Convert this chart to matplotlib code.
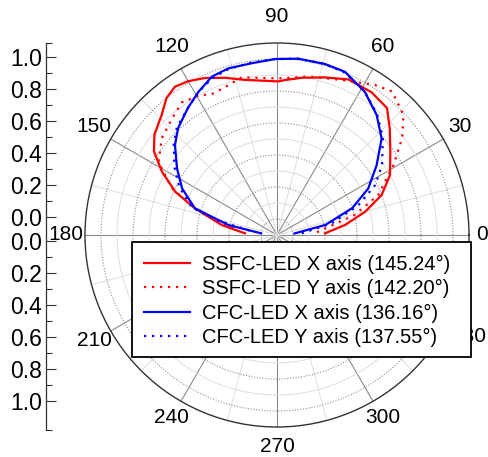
import numpy as np
import matplotlib
matplotlib.use("Agg")
import matplotlib.pyplot as plt
from matplotlib.patches import Rectangle

plt.rcParams['font.family'] = ['Liberation Sans', 'DejaVu Sans']

# ---- data (angle in degrees, relative intensity) ----
ssfc_x_ang = [2, 8.4, 14.8, 20.9, 28, 36.4, 43.4, 49.1, 56.5, 65.3, 73, 81, 87, 89.5, 101.7,
              108.3, 114.7, 120, 124.5, 128.9, 133.9, 140.7, 145.8, 151.2, 157, 162, 169.8, 177]
ssfc_x_val = [0.30, 0.43, 0.57, 0.70, 0.80, 0.88, 0.97, 1.05, 1.07, 1.07, 1.03, 0.995, 0.97, 0.96,
              0.99, 1.035, 1.08, 1.11, 1.125, 1.10, 1.04, 0.99, 0.93, 0.82, 0.69, 0.54, 0.35, 0.20]

ssfc_y_ang = [4, 14.4, 21.5, 31, 37.8, 43.5, 51.3, 56.8, 67.3, 78.8, 88, 92, 102.6, 109.3, 114.9,
              119.3, 125.6, 132, 140, 148.3, 156, 162, 175]
ssfc_y_val = [0.25, 0.50, 0.68, 0.85, 0.99, 1.09, 1.15, 1.12, 1.05, 1.01, 0.98, 0.98, 1.01, 0.98,
              0.97, 1.00, 1.02, 0.98, 0.94, 0.87, 0.72, 0.54, 0.24]

cfc_x_ang = [5, 11.8, 19.7, 27, 35, 42.7, 50.3, 58.5, 67.4, 74.4, 83.1, 90.6, 98.4, 106.3, 112.4,
             118.8, 125, 132.8, 138.6, 146.4, 153.9, 162, 168.4, 174]
cfc_x_val = [0.11, 0.31, 0.50, 0.64, 0.76, 0.89, 0.975, 1.05, 1.105, 1.11, 1.11, 1.10, 1.085, 1.085,
             1.07, 1.02, 0.97, 0.91, 0.85, 0.75, 0.66, 0.54, 0.31, 0.10]

cfc_y_ang = [4, 12, 20, 27, 33.8, 42.7, 50.3, 58.5, 67.4, 74.4, 83.1, 90.6, 98.4, 106.3, 112.4,
             118.8, 125, 132.8, 138.6, 146.4, 153.9, 162, 166, 173]
cfc_y_val = [0.155, 0.35, 0.54, 0.69, 0.79, 0.90, 0.98, 1.05, 1.10, 1.11, 1.11, 1.10, 1.09, 1.08,
             1.06, 1.02, 0.97, 0.92, 0.86, 0.77, 0.68, 0.56, 0.40, 0.14]

labels = ["SSFC-LED X axis (145.24°)", "SSFC-LED Y axis (142.20°)",
          "CFC-LED X axis (136.16°)", "CFC-LED Y axis (137.55°)"]

angle_ticks = [0, 30, 60, 90, 120, 150, 180, 210, 240, 270, 300, 330]
left_tick_vals = [0.0, 0.2, 0.4, 0.6, 0.8, 1.0]

# ---- figure ----
W, H = 488, 457
fig = plt.figure(figsize=(W / 100, H / 100), dpi=100)

cx, cy, R = 277, 235, 192
ax = fig.add_axes([(cx - R) / W, (H - cy - R) / H, 2 * R / W, 2 * R / H], projection='polar')
ax.set_ylim(0, 1.2)

dots = (0, (1, 2.6))
ax.plot(np.deg2rad(ssfc_x_ang), ssfc_x_val, color='#ff0000', lw=1.6, label=labels[0], zorder=5)
ax.plot(np.deg2rad(ssfc_y_ang), ssfc_y_val, color='#ff0000', lw=1.6, ls=dots, label=labels[1], zorder=5)
ax.plot(np.deg2rad(cfc_x_ang), cfc_x_val, color='#0000ff', lw=1.6, label=labels[2], zorder=6)
ax.plot(np.deg2rad(cfc_y_ang), cfc_y_val, color='#0000ff', lw=1.6, ls=dots, label=labels[3], zorder=6)

# grids
ax.set_xticks(np.deg2rad(angle_ticks))
ax.set_xticks(np.deg2rad(np.arange(15, 360, 30)), minor=True)
ax.set_xticklabels([])
ax.set_yticks(np.arange(0.1, 1.15, 0.2))
ax.set_yticks(np.arange(0.2, 1.05, 0.2), minor=True)
ax.set_yticklabels([])
ax.set_yticklabels([], minor=True)
ax.tick_params(axis='y', which='both', length=0)
ax.tick_params(axis='x', which='major', direction='in', length=6, width=0.8, colors='#333333')
ax.tick_params(axis='x', which='minor', direction='in', length=4, width=0.8, colors='#333333')
ax.xaxis.grid(True, which='major', color='#8a8a8a', lw=0.8, ls='-')
ax.xaxis.grid(True, which='minor', color='#dddddd', lw=0.7, ls='-')
ax.yaxis.grid(True, which='major', color='#8f8f8f', lw=0.8, ls=(0, (1, 1.5)))
ax.yaxis.grid(True, which='minor', color='#dddddd', lw=0.7, ls='-')
ax.spines['polar'].set_color('#333333')
ax.spines['polar'].set_linewidth(1.0)

# angle labels around the circle (figure pixel placement)
for a in angle_ticks:
    t = np.deg2rad(a)
    rx = 211
    ry = 218 if np.sin(t) > 0.01 else 211
    px = min(cx + rx * np.cos(t), 482)
    py = cy - ry * np.sin(t)
    if a == 330:
        px, py = 469, 336
    fig.text(px / W, 1 - py / H, str(a), ha='center', va='center', fontsize=15, zorder=3)

# ---- left scale axis ----
top_px, bot_px = 43, 430
ax2 = fig.add_axes([46 / W, (H - bot_px) / H, 0.01, (bot_px - top_px) / H])
ax2.set_ylim(bot_px, top_px)
ax2.set_xlim(0, 1)
ax2.patch.set_visible(False)
for s in ['top', 'right', 'bottom']:
    ax2.spines[s].set_visible(False)
ax2.spines['left'].set_linewidth(0.9)
ax2.spines['left'].set_color('#333333')
ax2.set_xticks([])
upper_pos = [217 - v * 160 for v in left_tick_vals]
lower_pos = [241 + v * 160 for v in left_tick_vals]
ax2.set_yticks(upper_pos + lower_pos)
ax2.set_yticklabels([f"{v:.1f}" for v in left_tick_vals] * 2, fontsize=16.5)
minor_vals = [0.1, 0.3, 0.5, 0.7, 0.9]
ax2.set_yticks([217 - v * 160 for v in minor_vals] + [241 + v * 160 for v in minor_vals]
               + [top_px, bot_px], minor=True)
ax2.tick_params(axis='y', which='major', direction='in', length=7, width=0.8, pad=3, colors='#333333',
                labelcolor='black')
ax2.tick_params(axis='y', which='minor', direction='in', length=4, width=0.8, colors='#333333')

# ---- legend (own frame box) ----
bx0, by0, bx1, by1 = 132, 242, 471, 357
frame = Rectangle((bx0 / W, 1 - by1 / H), (bx1 - bx0) / W, (by1 - by0) / H,
                  transform=fig.transFigure, facecolor='white', edgecolor='black',
                  linewidth=1.3, zorder=19)
fig.patches.append(frame)
leg = fig.legend(loc='upper left', bbox_to_anchor=(bx0 / W, 1 - by0 / H), borderaxespad=0,
                 fontsize=14.5, frameon=False,
                 handlelength=2.25, handletextpad=0.6, labelspacing=0.27, borderpad=0.62)
leg.set_zorder(20)

fig.savefig('out.png', dpi=100)
